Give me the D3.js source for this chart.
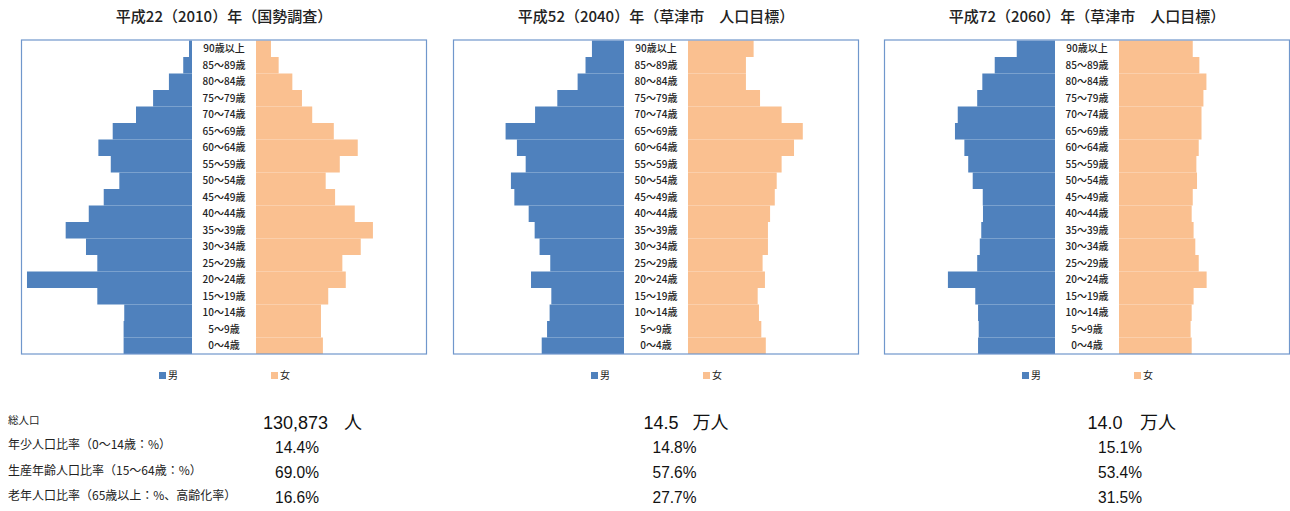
<!DOCTYPE html>
<html lang="ja">
<head>
<meta charset="utf-8">
<script src="https://cdn.jsdelivr.net/npm/d3@7"></script>
<style>
  html, body { margin: 0; padding: 0; background: #fff; }
  svg { display: block; }
</style>
</head>
<body>
<svg id="chart" width="1290" height="511"></svg>
<script>
// 年齢階級（上から下へ）
const ages = ["90歳以上","85～89歳","80～84歳","75～79歳","70～74歳","65～69歳","60～64歳",
  "55～59歳","50～54歳","45～49歳","40～44歳","35～39歳","30～34歳","25～29歳",
  "20～24歳","15～19歳","10～14歳","5～9歳","0～4歳"];

// 平成22(2010)年 国勢調査（人）
const male2010   = [140, 410, 1080, 1820, 2620, 3710, 4380, 3800, 3400, 4130, 4830, 5910, 4960, 4430, 7720, 4430, 3170, 3200, 3200];
const female2010 = [700, 1060, 1700, 2150, 2630, 3640, 4760, 3920, 3260, 3700, 4620, 5470, 4900, 4040, 4200, 3380, 3040, 3040, 3130];

// 平成52(2040)年 草津市 人口目標（人）
const male2040   = [1500, 1800, 2170, 3120, 4160, 5540, 5010, 4600, 5290, 5130, 4460, 4180, 3950, 3450, 4350, 3400, 3480, 3600, 3850];
const female2040 = [3070, 2710, 2710, 3370, 4380, 5370, 4960, 4380, 4150, 4060, 3840, 3740, 3740, 3490, 3600, 3260, 3320, 3430, 3640];

// 平成72(2060)年 草津市 人口目標（人）
const male2060   = [1790, 2820, 3400, 3640, 4550, 4680, 4240, 4060, 3850, 3380, 3370, 3450, 3520, 3640, 5010, 3730, 3600, 3570, 3600];
const female2060 = [3450, 3760, 4090, 3950, 3860, 3860, 3730, 3620, 3650, 3450, 3400, 3490, 3570, 3730, 4100, 3490, 3400, 3350, 3400];

const titles = ["平成22（2010）年（国勢調査）", "平成52（2040）年（草津市　人口目標）", "平成72（2060）年（草津市　人口目標）"];
const legendLabels = ["男", "女"];

// 指標
const rowLabels = ["総人口", "年少人口比率（0～14歳：%）", "生産年齢人口比率（15～64歳：%）", "老年人口比率（65歳以上：%、高齢化率）"];
const totalValues = ["130,873", "14.5", "14.0"];
const totalUnits = ["人", "万人", "万人"];
const youngRatio = [14.4, 14.8, 15.1];
const workingRatio = [69.0, 57.6, 53.4];
const elderlyRatio = [16.6, 27.7, 31.5];

const panels = [
  { male: male2010, female: female2010 },
  { male: male2040, female: female2040 },
  { male: male2060, female: female2060 }
];

const MALE = "#4F81BD", FEMALE = "#FAC090";
const svg = d3.select("#chart");
const font = "'Noto Sans CJK JP', 'Noto Sans', sans-serif";

const panelLeft = [21, 453, 884];
const boxW = 406, boxTop = 40.5, boxBottom = 354;
const sideW = 171, gap = 64;
const maxPop = 8000;

const y = d3.scaleBand().domain(ages).range([boxTop, boxBottom]).padding(0);

panels.forEach((p, i) => {
  const left = panelLeft[i];
  const cx = left + boxW / 2;
  const g = svg.append("g");

  const xm = d3.scaleLinear().domain([0, maxPop]).range([left + sideW, left]);
  const xf = d3.scaleLinear().domain([0, maxPop]).range([left + sideW + gap, left + sideW * 2 + gap]);

  g.append("text")
    .attr("x", cx).attr("y", 22)
    .attr("text-anchor", "middle")
    .style("font-family", font).style("font-size", "15px").style("font-weight", 500).style("fill", "#222")
    .text(titles[i]);

  g.selectAll("rect.m").data(p.male).join("rect")
    .attr("class", "m")
    .attr("x", d => xm(d)).attr("y", (d, j) => y(ages[j]))
    .attr("width", d => xm(0) - xm(d)).attr("height", y.bandwidth())
    .attr("fill", MALE);

  g.selectAll("rect.f").data(p.female).join("rect")
    .attr("class", "f")
    .attr("x", xf(0)).attr("y", (d, j) => y(ages[j]))
    .attr("width", d => xf(d) - xf(0)).attr("height", y.bandwidth())
    .attr("fill", FEMALE);

  g.selectAll("text.age").data(ages).join("text")
    .attr("class", "age")
    .attr("x", left + sideW + gap / 2)
    .attr("y", d => y(d) + y.bandwidth() / 2)
    .attr("dy", "0.35em")
    .attr("text-anchor", "middle")
    .style("font-family", font).style("font-size", "10px").style("font-weight", 500).style("fill", "#222")
    .text(d => d);

  g.append("rect")
    .attr("x", left + 0.5).attr("y", boxTop - 0.5)
    .attr("width", boxW - 1).attr("height", boxBottom - boxTop + 0.5)
    .attr("fill", "none").attr("stroke", "#7097CC").attr("stroke-width", 1.2);

  // 凡例
  const lg = g.append("g");
  [[MALE, 138], [FEMALE, 250]].forEach(([c, off], k) => {
    lg.append("rect").attr("x", left + off).attr("y", 372).attr("width", 7).attr("height", 7).attr("fill", c);
    lg.append("text").attr("x", left + off + 9).attr("y", 375.5).attr("dy", "0.35em")
      .style("font-family", font).style("font-size", "10px").style("fill", "#222")
      .text(legendLabels[k]);
  });
});

// 指標の表
const labelY = [420, 445, 470.5, 495.5];
svg.selectAll("text.rowlabel").data(rowLabels).join("text")
  .attr("class", "rowlabel")
  .attr("x", 8).attr("y", (d, i) => labelY[i]).attr("dy", "0.35em")
  .style("font-family", font)
  .style("font-size", (d, i) => i === 0 ? "10.5px" : "12px")
  .style("fill", "#222")
  .text(d => d);

const numFont = "'Liberation Sans', Arial, sans-serif";
const totalX = [263, 643.5, 1087.5];
const unitX = [344, 692.5, 1140];
const pctX = [275, 652.5, 1098];
const pctBase = [452.5, 478.3, 503.3];

totalValues.forEach((v, i) => {
  svg.append("text").attr("x", totalX[i]).attr("y", 429)
    .style("font-family", numFont).style("font-size", "18px").style("fill", "#111")
    .text(v);
  svg.append("text").attr("x", unitX[i]).attr("y", 429)
    .style("font-family", font).style("font-size", "18px").style("fill", "#111")
    .text(totalUnits[i]);
});

[youngRatio, workingRatio, elderlyRatio].forEach((arr, r) => {
  arr.forEach((v, i) => {
    svg.append("text").attr("x", pctX[i]).attr("y", pctBase[r])
      .attr("textLength", 44).attr("lengthAdjust", "spacingAndGlyphs")
      .style("font-family", numFont).style("font-size", "17px").style("fill", "#111")
      .text(v.toFixed(1) + "%");
  });
});
</script>
</body>
</html>
